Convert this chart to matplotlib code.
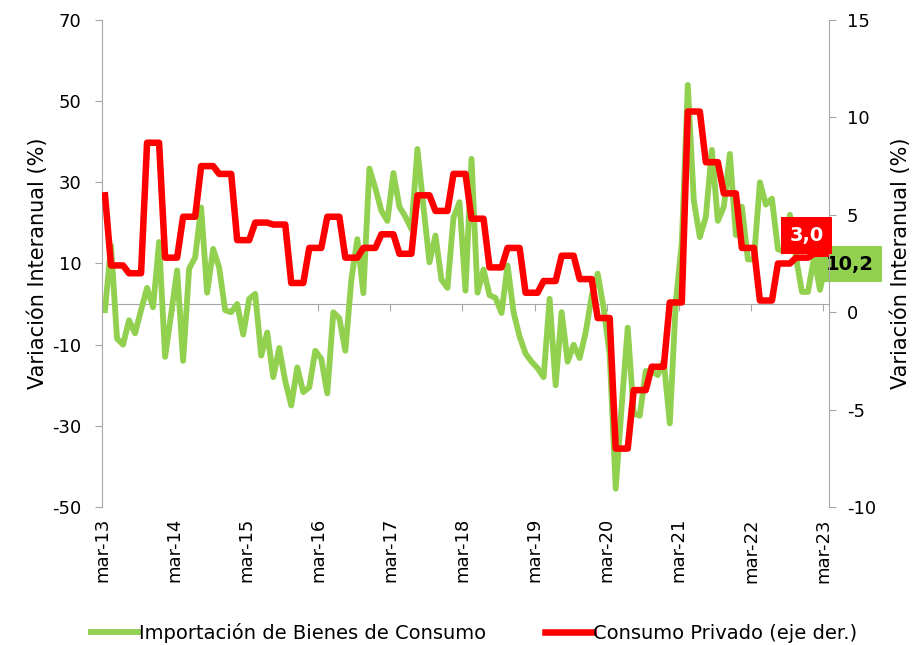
import numpy as np
import matplotlib
matplotlib.use('Agg')
import matplotlib.pyplot as plt

# monthly series, mar-13 .. mar-23
importaciones = [-1.5, 14.4, -8.5, -10.0, -4.0, -7.2, -1.5, 4.0, -0.8, 15.3,
                 -13.0, -2.5, 8.3, -14.0, 8.7, 11.5, 23.8, 2.8, 13.6, 9.0,
                 -1.5, -2.0, 0.0, -7.5, 1.3, 2.5, -12.7, -7.0, -18.0, -10.8,
                 -19.0, -25.0, -15.6, -21.7, -20.5, -11.5, -13.5, -22.0, -2.0, -3.5,
                 -11.5, 6.0, 16.0, 2.7, 33.4, 28.5, 23.0, 20.5, 32.3, 24.0,
                 21.5, 18.5, 38.2, 24.0, 10.3, 16.9, 6.0, 4.0, 21.3, 25.1,
                 3.3, 35.8, 2.8, 8.5, 2.2, 1.5, -2.2, 9.5, -2.0, -8.0,
                 -12.2, -14.2, -15.8, -18.0, 1.3, -20.0, -2.0, -14.2, -10.0, -13.3,
                 -7.0, 2.0, 7.5, -1.0, -12.5, -45.5, -25.0, -5.8, -27.0, -27.5,
                 -16.5, -16.5, -17.5, -14.0, -29.4, 0.5, 15.0, 54.0, 25.5, 16.5,
                 21.5, 38.0, 20.5, 24.0, 37.0, 17.0, 24.0, 11.0, 11.0, 30.0,
                 24.5, 26.0, 13.5, 13.0, 22.0, 11.5, 3.0, 3.0, 11.5, 3.5,
                 10.2]

# quarterly private consumption: Q1-13 (only mar-13 shown), then Q2-13 .. Q1-23
consumo_trim = [6.0, 2.4, 2.0, 8.7, 2.8, 4.9, 7.5, 7.1, 3.7, 4.6, 4.5, 1.5,
                3.3, 4.9, 2.8, 3.3, 4.0, 3.0, 6.0, 5.2, 7.1, 4.8, 2.3, 3.3,
                1.0, 1.6, 2.9, 1.7, -0.3, -7.0, -4.0, -2.8, 0.5, 10.3, 7.7,
                6.1, 3.3, 0.6, 2.5, 2.8, 3.0]

year_labels = ['mar-13', 'mar-14', 'mar-15', 'mar-16', 'mar-17', 'mar-18',
               'mar-19', 'mar-20', 'mar-21', 'mar-22', 'mar-23']

# each quarter value repeated for its three months
consumo = np.concatenate([consumo_trim[:1], np.repeat(consumo_trim[1:], 3)])
x = np.arange(len(importaciones)) + 0.5

GREEN = '#92D050'
RED = '#FF0000'
GRAY = '#A6A6A6'
FS = 13

plt.rcParams['font.family'] = ['DejaVu Sans']
plt.rcParams['axes.unicode_minus'] = False

fig = plt.figure(figsize=(9.19, 6.45), dpi=100)
ax = fig.add_axes([102 / 919, 1 - 507 / 645, 727 / 919, 487 / 645])

ax.plot(x, importaciones, color=GREEN, lw=4.2, solid_joinstyle='round')
ax.set_xlim(0, len(importaciones))
ax.set_ylim(-50, 70)
ax.set_yticks(np.arange(-50, 71, 20))
ax.set_xticks(np.arange(0, 121, 12))
ax.set_xticklabels(year_labels, rotation=90)
ax.tick_params(axis='x', length=0, pad=8, labelsize=FS)
ax.tick_params(axis='y', direction='out', length=5, color=GRAY, pad=10, labelsize=FS)
for s in ['top', 'right', 'bottom']:
    ax.spines[s].set_visible(False)
ax.spines['left'].set_color(GRAY)
ax.set_ylabel('Variación Interanual (%)', fontsize=FS + 2, labelpad=3)

# category axis crossing at zero
sec = ax.secondary_xaxis(50 / 120)
sec.set_xticks(np.arange(0, 121, 12))
sec.tick_params(axis='x', direction='out', length=5, color=GRAY, labelbottom=False, labeltop=False)
for s in sec.spines.values():
    s.set_color(GRAY)

ax2 = ax.twinx()
ax2.plot(x, consumo, color=RED, lw=4.7, solid_joinstyle='round')
ax2.set_ylim(-10, 15)
ax2.set_yticks(np.arange(-10, 16, 5))
ax2.tick_params(axis='y', direction='out', length=5, color=GRAY, pad=8, labelsize=FS)
for s in ['top', 'left', 'bottom']:
    ax2.spines[s].set_visible(False)
ax2.spines['right'].set_color(GRAY)
ax2.set_ylabel('Variación Interanual (%)', fontsize=FS + 2, rotation=90, labelpad=10)

# last-value labels
ax.annotate(f"{importaciones[-1]:.1f}".replace('.', ','), xy=(x[-1], importaciones[-1]),
            xytext=(17, -1), textcoords='offset points', ha='center', va='center',
            fontsize=FS + 1, fontweight='bold', color='black', annotation_clip=False,
            bbox=dict(boxstyle='square,pad=0.45', fc=GREEN, ec='none'))
ax2.annotate(f"{consumo[-1]:.1f}".replace('.', ','), xy=(x[-1], consumo[-1]),
             xytext=(-14, 13), textcoords='offset points', ha='center', va='center',
             fontsize=FS + 1, fontweight='bold', color='white', annotation_clip=False,
             bbox=dict(boxstyle='square,pad=0.45', fc=RED, ec='none'))

h1 = plt.Line2D([], [], color=GREEN, lw=4.2)
h2 = plt.Line2D([], [], color=RED, lw=4.7)
fig.legend([h1, h2], ['Importación de Bienes de Consumo', 'Consumo Privado (eje der.)'],
           loc='center', bbox_to_anchor=(474 / 919, 1 - 633 / 645), ncol=2, frameon=False,
           fontsize=FS + 1, handlelength=2.5, handletextpad=0.0, columnspacing=3.0)

fig.savefig('out.png', dpi=100)
